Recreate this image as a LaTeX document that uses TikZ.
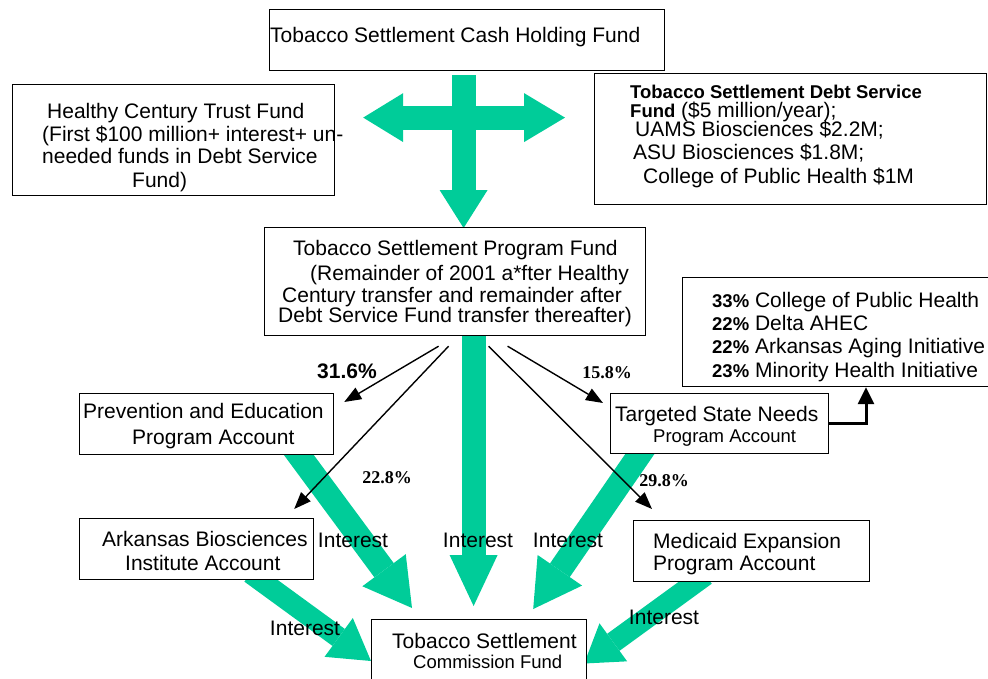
\documentclass[tikz,border=0pt]{standalone}
\usepackage{fontspec}
\setmainfont{Liberation Sans}
\newfontfamily\serifnum{Liberation Serif}
\usetikzlibrary{arrows.meta,calc,backgrounds}
\definecolor{flowgreen}{RGB}{0,204,153}
\newcommand{\smtxt}{\fontsize{18.5}{20}\selectfont}

\begin{document}
\begin{tikzpicture}
  [x=1pt,y=-1pt,
   box/.style={draw,line width=1.2pt,fill=white,inner sep=0pt,anchor=north west},
   txt/.style={inner sep=0pt,align=left,anchor=north west,font=\fontsize{21}{23}\selectfont},
   interest/.style={inner sep=0pt,font=\fontsize{21}{23}\selectfont},
   share/.style={inner sep=0pt,font=\serifnum\bfseries\fontsize{18}{20}\selectfont},
   flow/.style 2 args={flowgreen,line width=24pt,-{Triangle[length=#1,width=#2,line width=0pt]}},
   link/.style={line width=1.4pt,-{Triangle[length=17pt,width=13pt]}}]
  \useasboundingbox (0,0) rectangle (988,678);

  % boxes
  \node[box,minimum width=395pt,minimum height=61pt] (cash) at (269,9) {};
  \node[box,minimum width=322pt,minimum height=111pt] (hct) at (12,84) {};
  \node[box,minimum width=392pt,minimum height=131pt] (debt) at (594,73) {};
  \node[box,minimum width=381pt,minimum height=108pt] (prog) at (264,227) {};
  \node[box,minimum width=308pt,minimum height=109pt] (list) at (682,277) {};
  \node[box,minimum width=254pt,minimum height=61pt] (prev) at (79,393) {};
  \node[box,minimum width=218pt,minimum height=60pt] (tsn) at (610,393) {};
  \node[box,minimum width=234pt,minimum height=61pt] (ark) at (79,518) {};
  \node[box,minimum width=236pt,minimum height=61pt] (med) at (633,520) {};
  \node[box,minimum width=215pt,minimum height=80pt] (comm) at (371,619) {};

  % box texts
  \node[txt] (cashtext) at (270,27) {Tobacco Settlement Cash Holding Fund};
  \node[txt] (hcttext) at (42,103.5) {\hspace*{5pt}Healthy Century Trust Fund\\
    (First \$100 million+ interest+ un-\\[-1pt]
    needed funds in Debt Service\\[1pt]
    \hspace*{90pt}Fund)};
  \node[txt] (debttext) at (630,84.5) {\textbf{\smtxt Tobacco Settlement Debt Service}\\[-4pt]
    \textbf{\smtxt Fund} (\$5 million/year);\\[-4pt]
    \hspace*{5pt}UAMS Biosciences \$2.2M;\\
    \hspace*{3pt}ASU Biosciences \$1.8M;\\[1pt]
    \hspace*{13pt}College of Public Health \$1M};
  \node[txt] (progtext) at (278,240.5) {\hspace*{15pt}Tobacco Settlement Program Fund\\[2pt]
    \hspace*{32pt}(Remainder of 2001 a*fter Healthy\\[-1pt]
    \hspace*{4pt}Century transfer and remainder after\\[-3pt]
    Debt Service Fund transfer thereafter)};
  \node[txt] (listtext) at (712,292.5) {\textbf{\smtxt 33\%} College of Public Health\\
    \textbf{\smtxt 22\%} Delta AHEC\\
    \textbf{\smtxt 22\%} Arkansas Aging Initiative\\[1pt]
    \textbf{\smtxt 23\%} Minority Health Initiative};
  \node[txt] (prevtext) at (83,403) {Prevention and Education\\[3pt]
    \hspace*{49pt}Program Account};
  \node[txt] (tsntext) at (615,406) {Targeted State Needs\\[-2pt]
    \hspace*{38pt}{\smtxt Program Account}};
  \node[txt] (arktext) at (102,531) {Arkansas Biosciences\\[1pt]
    \hspace*{23pt}Institute Account};
  \node[txt] (medtext) at (653,533) {Medicaid Expansion\\[-1pt]
    Program Account};
  \node[txt] (commtext) at (392,633) {Tobacco Settlement\\[-3pt]
    \hspace*{21pt}{\smtxt Commission Fund}};

  % green transfers
  \begin{scope}[on background layer]
    \draw[flow={38pt}{48pt}] ($(cash.south)+(-3.5,4)$) -- ($(prog.north)+(8.5,1)$);
    \draw[flowgreen,line width=24pt,
      {Triangle[length=40pt,width=49pt,line width=0pt]}-{Triangle[length=41pt,width=49pt,line width=0pt]}]
      ($(hct.east)+(28,-22.5)$) -- ($(debt.west)+(-29,-21.5)$);
    \draw[flow={51pt}{48pt}] ($(prog.south)+(18.5,-10)$) -- ($(comm.north)+(-5.5,-13)$);
    \draw[flow={47pt}{54pt}] ($(prev.south)+(85,-10)$) -- ($(comm.north west)+(41,-11)$);
    \draw[flow={47pt}{54pt}] ($(tsn.south)+(-73,-10)$) -- ($(comm.north east)+(-54,-10)$);
    \draw[flow={40pt}{48pt},line width=21pt] ($(ark.south)+(54,-7)$) -- ($(comm.north west)+(0,42)$);
    \draw[flow={36pt}{47pt},line width=21pt] ($(med.south)+(-46,-7)$) -- ($(comm.north east)+(-3,44.5)$);
  \end{scope}

  % shares out of the program fund
  \draw[link] ($(prog.south)+(-16.5,10)$) -- ($(prev.north east)+(10,9)$);
  \draw[link] ($(prog.south)+(-6.5,10)$) -- ($(ark.north east)+(-20,-9)$);
  \draw[link] ($(prog.south)+(33.5,10)$) -- ($(med.north west)+(19,-11)$);
  \draw[link] ($(prog.south)+(52.5,10)$) -- ($(tsn.north west)+(-7,10)$);
  \draw[line width=3pt,-{Triangle[length=17pt,width=16pt]}] (tsn.east) -| ($(list.south west)+(184,0)$);

  \node[interest,font=\bfseries\fontsize{21}{23}\selectfont] (p316) at (347,371) {31.6\%};
  \node[share] (p228) at (387,477.5) {22.8\%};
  \node[share] (p158) at (607,373) {15.8\%};
  \node[share] (p298) at (664,481) {29.8\%};

  \node[interest] (int1) at (353,540) {Interest};
  \node[interest] (int2) at (478,540) {Interest};
  \node[interest] (int3) at (568,540) {Interest};
  \node[interest] (int4) at (305,628) {Interest};
  \node[interest] (int5) at (664,617) {Interest};
\end{tikzpicture}
\end{document}
